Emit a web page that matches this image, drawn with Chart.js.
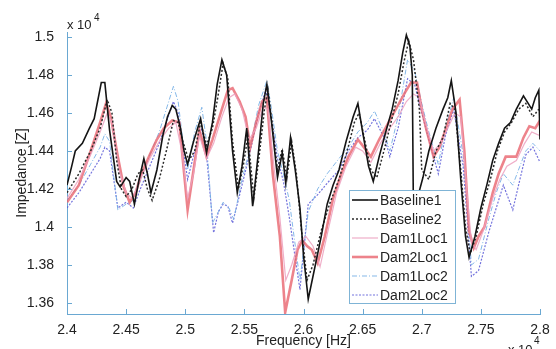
<!DOCTYPE html>
<html>
<head>
<meta charset="utf-8">
<script src="https://cdn.jsdelivr.net/npm/chart.js@4.4.0/dist/chart.umd.min.js"></script>
<style>
  html, body { margin: 0; padding: 0; background: #fff; }
  #wrap { width: 556px; height: 349px; position: relative; }
</style>
</head>
<body>
<div id="wrap"><canvas id="imp" width="556" height="349"></canvas></div>
<script>
// tick labels
const xTicks = [2.4, 2.45, 2.5, 2.55, 2.6, 2.65, 2.7, 2.75, 2.8];
const yTicks = [1.36, 1.38, 1.4, 1.42, 1.44, 1.46, 1.48, 1.5];

// Baseline1 (frequency x1e4 Hz, impedance x1e4)
const b1Freq = [2.400, 2.404, 2.407, 2.413, 2.419, 2.423, 2.429, 2.432, 2.436, 2.442, 2.445, 2.450, 2.453, 2.457, 2.461, 2.465, 2.468, 2.471, 2.476, 2.481, 2.485, 2.489, 2.492, 2.496, 2.499, 2.502, 2.507, 2.513, 2.518, 2.523, 2.527, 2.531, 2.535, 2.540, 2.544, 2.548, 2.552, 2.557, 2.562, 2.566, 2.569, 2.573, 2.578, 2.582, 2.585, 2.589, 2.593, 2.597, 2.600, 2.604, 2.610, 2.615, 2.620, 2.625, 2.630, 2.636, 2.642, 2.646, 2.650, 2.655, 2.659, 2.664, 2.670, 2.675, 2.680, 2.684, 2.687, 2.690, 2.692, 2.693, 2.695, 2.701, 2.706, 2.712, 2.718, 2.722, 2.725, 2.729, 2.733, 2.737, 2.740, 2.745, 2.750, 2.755, 2.760, 2.765, 2.770, 2.775, 2.780, 2.786, 2.790, 2.793, 2.796, 2.799, 2.800];
const b1Imp = [1.422, 1.432, 1.440, 1.444, 1.452, 1.457, 1.476, 1.476, 1.451, 1.424, 1.421, 1.426, 1.424, 1.412, 1.425, 1.436, 1.428, 1.418, 1.430, 1.448, 1.458, 1.464, 1.462, 1.452, 1.440, 1.433, 1.445, 1.457, 1.439, 1.455, 1.475, 1.488, 1.480, 1.440, 1.418, 1.432, 1.452, 1.411, 1.440, 1.465, 1.475, 1.455, 1.426, 1.439, 1.423, 1.447, 1.430, 1.410, 1.385, 1.362, 1.380, 1.395, 1.412, 1.422, 1.430, 1.445, 1.458, 1.465, 1.450, 1.432, 1.424, 1.437, 1.451, 1.462, 1.477, 1.492, 1.501, 1.495, 1.480, 1.405, 1.412, 1.426, 1.440, 1.452, 1.462, 1.468, 1.477, 1.460, 1.425, 1.395, 1.384, 1.395, 1.410, 1.422, 1.435, 1.444, 1.452, 1.455, 1.462, 1.469, 1.465, 1.462, 1.468, 1.472, 1.446];

// Baseline2
const b2Freq = [2.400, 2.410, 2.420, 2.428, 2.434, 2.438, 2.442, 2.446, 2.450, 2.455, 2.460, 2.464, 2.468, 2.472, 2.478, 2.484, 2.490, 2.494, 2.498, 2.503, 2.508, 2.513, 2.518, 2.523, 2.528, 2.532, 2.536, 2.540, 2.545, 2.549, 2.553, 2.558, 2.563, 2.567, 2.570, 2.574, 2.578, 2.582, 2.586, 2.590, 2.594, 2.598, 2.603, 2.608, 2.615, 2.622, 2.630, 2.637, 2.643, 2.647, 2.652, 2.657, 2.662, 2.668, 2.674, 2.680, 2.685, 2.689, 2.693, 2.698, 2.700, 2.706, 2.712, 2.718, 2.724, 2.728, 2.733, 2.737, 2.741, 2.746, 2.752, 2.758, 2.764, 2.770, 2.776, 2.782, 2.788, 2.794, 2.799];
const b2Imp = [1.418, 1.428, 1.440, 1.452, 1.467, 1.460, 1.435, 1.420, 1.416, 1.420, 1.428, 1.430, 1.420, 1.414, 1.425, 1.440, 1.456, 1.455, 1.445, 1.435, 1.440, 1.455, 1.443, 1.452, 1.470, 1.486, 1.478, 1.445, 1.420, 1.432, 1.448, 1.415, 1.440, 1.462, 1.472, 1.452, 1.430, 1.441, 1.426, 1.445, 1.428, 1.400, 1.372, 1.380, 1.398, 1.412, 1.425, 1.440, 1.455, 1.460, 1.445, 1.430, 1.426, 1.440, 1.455, 1.470, 1.487, 1.498, 1.488, 1.462, 1.430, 1.425, 1.440, 1.447, 1.465, 1.462, 1.430, 1.400, 1.386, 1.395, 1.412, 1.425, 1.440, 1.450, 1.455, 1.462, 1.465, 1.458, 1.462];

// Dam1Loc1
const d1l1Freq = [2.400, 2.410, 2.420, 2.428, 2.434, 2.438, 2.444, 2.450, 2.455, 2.462, 2.470, 2.478, 2.486, 2.492, 2.497, 2.502, 2.507, 2.512, 2.518, 2.524, 2.531, 2.537, 2.542, 2.548, 2.554, 2.560, 2.566, 2.570, 2.575, 2.580, 2.585, 2.590, 2.596, 2.602, 2.608, 2.614, 2.620, 2.628, 2.636, 2.644, 2.650, 2.657, 2.665, 2.673, 2.680, 2.687, 2.693, 2.698, 2.703, 2.710, 2.716, 2.722, 2.728, 2.733, 2.738, 2.742, 2.746, 2.752, 2.760, 2.766, 2.772, 2.780, 2.787, 2.793, 2.800];
const d1l1Imp = [1.415, 1.425, 1.438, 1.450, 1.460, 1.455, 1.430, 1.418, 1.415, 1.425, 1.436, 1.445, 1.452, 1.455, 1.440, 1.415, 1.428, 1.448, 1.436, 1.444, 1.458, 1.468, 1.470, 1.462, 1.446, 1.452, 1.463, 1.462, 1.432, 1.405, 1.372, 1.380, 1.392, 1.395, 1.390, 1.379, 1.396, 1.418, 1.432, 1.442, 1.440, 1.434, 1.444, 1.452, 1.458, 1.466, 1.470, 1.468, 1.455, 1.440, 1.444, 1.452, 1.460, 1.458, 1.420, 1.392, 1.388, 1.398, 1.415, 1.425, 1.432, 1.435, 1.444, 1.450, 1.448];

// Dam2Loc1
const d2l1Freq = [2.400, 2.410, 2.420, 2.428, 2.433, 2.437, 2.443, 2.448, 2.453, 2.458, 2.463, 2.470, 2.476, 2.482, 2.489, 2.495, 2.498, 2.502, 2.507, 2.512, 2.518, 2.523, 2.530, 2.536, 2.540, 2.546, 2.551, 2.555, 2.560, 2.565, 2.569, 2.574, 2.580, 2.5845, 2.590, 2.595, 2.599, 2.603, 2.607, 2.612, 2.618, 2.625, 2.632, 2.638, 2.646, 2.651, 2.657, 2.664, 2.672, 2.679, 2.686, 2.691, 2.696, 2.700, 2.704, 2.710, 2.715, 2.720, 2.726, 2.732, 2.736, 2.740, 2.744, 2.748, 2.753, 2.760, 2.765, 2.771, 2.780, 2.786, 2.791, 2.796, 2.800];
const d2l1Imp = [1.413, 1.422, 1.440, 1.455, 1.465, 1.458, 1.437, 1.421, 1.413, 1.418, 1.428, 1.438, 1.446, 1.452, 1.456, 1.455, 1.435, 1.409, 1.430, 1.451, 1.437, 1.446, 1.460, 1.472, 1.473, 1.466, 1.458, 1.442, 1.455, 1.466, 1.468, 1.428, 1.395, 1.355, 1.372, 1.388, 1.393, 1.390, 1.388, 1.381, 1.395, 1.415, 1.428, 1.437, 1.446, 1.442, 1.437, 1.446, 1.455, 1.463, 1.471, 1.476, 1.476, 1.462, 1.451, 1.437, 1.442, 1.451, 1.462, 1.467, 1.440, 1.398, 1.389, 1.395, 1.400, 1.418, 1.428, 1.437, 1.437, 1.447, 1.453, 1.452, 1.456];

// Dam1Loc2
const d1l2Freq = [2.400, 2.410, 2.420, 2.428, 2.432, 2.436, 2.443, 2.450, 2.456, 2.462, 2.470, 2.478, 2.484, 2.490, 2.494, 2.498, 2.502, 2.508, 2.514, 2.518, 2.523, 2.528, 2.532, 2.537, 2.541, 2.548, 2.555, 2.562, 2.569, 2.573, 2.578, 2.583, 2.588, 2.592, 2.597, 2.604, 2.612, 2.620, 2.630, 2.638, 2.646, 2.654, 2.660, 2.668, 2.673, 2.680, 2.688, 2.694, 2.700, 2.706, 2.714, 2.720, 2.727, 2.735, 2.742, 2.748, 2.757, 2.763, 2.769, 2.777, 2.783, 2.788, 2.794, 2.800];
const d1l2Imp = [1.414, 1.422, 1.433, 1.442, 1.449, 1.445, 1.409, 1.412, 1.414, 1.424, 1.438, 1.450, 1.462, 1.474, 1.466, 1.445, 1.430, 1.450, 1.463, 1.445, 1.402, 1.408, 1.413, 1.410, 1.404, 1.425, 1.442, 1.464, 1.477, 1.462, 1.440, 1.428, 1.414, 1.395, 1.372, 1.408, 1.420, 1.428, 1.436, 1.442, 1.450, 1.455, 1.461, 1.450, 1.440, 1.458, 1.488, 1.482, 1.465, 1.450, 1.433, 1.452, 1.468, 1.438, 1.380, 1.383, 1.405, 1.418, 1.428, 1.422, 1.432, 1.440, 1.444, 1.440];

// Dam2Loc2
const d2l2Freq = [2.400, 2.410, 2.420, 2.428, 2.432, 2.436, 2.443, 2.450, 2.456, 2.462, 2.470, 2.478, 2.484, 2.490, 2.494, 2.498, 2.502, 2.508, 2.514, 2.518, 2.524, 2.528, 2.532, 2.536, 2.540, 2.548, 2.555, 2.562, 2.568, 2.572, 2.578, 2.583, 2.588, 2.592, 2.597, 2.604, 2.612, 2.620, 2.630, 2.638, 2.646, 2.654, 2.660, 2.669, 2.673, 2.680, 2.688, 2.694, 2.700, 2.706, 2.714, 2.720, 2.727, 2.735, 2.742, 2.748, 2.757, 2.763, 2.769, 2.777, 2.783, 2.788, 2.794, 2.800];
const d2l2Imp = [1.410, 1.418, 1.428, 1.436, 1.442, 1.440, 1.410, 1.413, 1.410, 1.420, 1.432, 1.444, 1.455, 1.466, 1.460, 1.442, 1.425, 1.440, 1.452, 1.438, 1.397, 1.408, 1.412, 1.411, 1.402, 1.422, 1.440, 1.460, 1.472, 1.460, 1.436, 1.424, 1.405, 1.388, 1.367, 1.412, 1.417, 1.423, 1.430, 1.440, 1.447, 1.451, 1.457, 1.446, 1.437, 1.452, 1.478, 1.475, 1.460, 1.446, 1.428, 1.448, 1.462, 1.432, 1.374, 1.377, 1.398, 1.410, 1.422, 1.409, 1.425, 1.438, 1.442, 1.434];

const axisColor = '#6aa8d2';
const textColor = '#222';
const fontFam = '"Liberation Sans", Arial, sans-serif';

function pts(fx, fy) {
    let out = [];
    for (let i = 0; i < fx.length; i++) {
        out.push({ x: fx[i], y: fy[i] });
    }
    return out;
}

function line(label, data, color, width, dash) {
    return {
        label: label,
        data: data,
        borderColor: color,
        borderWidth: width,
        borderDash: dash,
        pointRadius: 0,
        tension: 0,
        fill: false
    };
}

// inward tick marks like the original plot
const innerTicks = {
    id: 'innerTicks',
    afterDraw(chart) {
        const c = chart.ctx;
        const xs = chart.scales.x;
        const ys = chart.scales.y;
        const area = chart.chartArea;
        c.save();
        c.strokeStyle = axisColor;
        c.lineWidth = 1;
        c.beginPath();
        for (const v of xTicks) {
            const px = Math.round(xs.getPixelForValue(v)) + 0.5;
            c.moveTo(px, area.bottom);
            c.lineTo(px, area.bottom - 5);
        }
        for (const v of yTicks) {
            const py = Math.round(ys.getPixelForValue(v)) + 0.5;
            c.moveTo(area.left, py);
            c.lineTo(area.left + 5, py);
        }
        c.stroke();

        // exponent notes
        c.fillStyle = textColor;
        c.textBaseline = 'alphabetic';
        c.textAlign = 'left';
        c.font = '13px ' + fontFam;
        c.fillText('x 10', 67, 29);
        c.fillText('x 10', 508, 354);
        c.font = '10px ' + fontFam;
        c.fillText('4', 94, 21);
        c.fillText('4', 534, 344);
        c.restore();
    }
};

// legend box drawn inside the plot
const legendBox = {
    id: 'legendBox',
    afterDraw(chart) {
        const c = chart.ctx;
        const bx = 349.5, by = 190.5, bw = 106, bh = 113;
        c.save();
        c.fillStyle = '#fff';
        c.fillRect(bx, by, bw, bh);
        c.strokeStyle = '#7fb4d6';
        c.lineWidth = 1;
        c.strokeRect(bx, by, bw, bh);
        c.font = '14px ' + fontFam;
        c.textBaseline = 'middle';
        c.textAlign = 'left';
        chart.data.datasets.forEach((ds, i) => {
            const ry = 200 + i * 19;
            c.strokeStyle = ds.borderColor;
            c.lineWidth = ds.borderWidth;
            c.setLineDash(ds.borderDash || []);
            c.beginPath();
            c.moveTo(352, ry);
            c.lineTo(378, ry);
            c.stroke();
            c.setLineDash([]);
            c.fillStyle = textColor;
            c.fillText(ds.label, 380, ry + 1);
        });
        c.restore();
    }
};

new Chart(document.getElementById('imp'), {
    type: 'line',
    data: {
        datasets: [
            line('Baseline1', pts(b1Freq, b1Imp), '#141414', 1.6, []),
            line('Baseline2', pts(b2Freq, b2Imp), '#2a2a2a', 1.5, [2, 2]),
            line('Dam1Loc1', pts(d1l1Freq, d1l1Imp), 'rgba(236,160,190,0.85)', 1.2, []),
            line('Dam2Loc1', pts(d2l1Freq, d2l1Imp), 'rgba(232,100,110,0.8)', 2.6, []),
            line('Dam1Loc2', pts(d1l2Freq, d1l2Imp), 'rgba(120,176,230,0.9)', 1, [5, 2, 1, 2]),
            line('Dam2Loc2', pts(d2l2Freq, d2l2Imp), 'rgba(90,90,215,0.85)', 1.2, [2, 1.5])
        ]
    },
    options: {
        responsive: false,
        animation: false,
        layout: { padding: { top: 32, right: 16, left: 0, bottom: 0 } },
        plugins: {
            legend: { display: false },
            tooltip: { enabled: false }
        },
        scales: {
            x: {
                type: 'linear',
                min: 2.4,
                max: 2.8,
                afterBuildTicks: (s) => { s.ticks = xTicks.map(v => ({ value: v })); },
                afterFit: (s) => { s.height = 35; },
                grid: { display: false },
                border: { display: true, color: axisColor, width: 1 },
                ticks: {
                    color: textColor,
                    padding: 0,
                    maxRotation: 0,
                    font: { size: 14, family: fontFam },
                    callback: (v) => String(v)
                },
                title: {
                    display: true,
                    text: 'Frequency [Hz]',
                    color: textColor,
                    font: { size: 14, family: fontFam },
                    padding: { top: 0, bottom: -1 }
                }
            },
            y: {
                type: 'linear',
                min: 1.3542,
                max: 1.5026,
                afterBuildTicks: (s) => { s.ticks = yTicks.map(v => ({ value: v })); },
                afterFit: (s) => { s.width = 67; },
                grid: { display: false },
                border: { display: true, color: axisColor, width: 1 },
                ticks: {
                    color: textColor,
                    padding: 5,
                    font: { size: 14, family: fontFam },
                    callback: (v) => String(v)
                },
                title: {
                    display: true,
                    text: 'Impedance [Z]',
                    color: textColor,
                    font: { size: 14, family: fontFam },
                    padding: { top: 14, bottom: 0 }
                }
            }
        }
    },
    plugins: [innerTicks, legendBox]
});
</script>
</body>
</html>
